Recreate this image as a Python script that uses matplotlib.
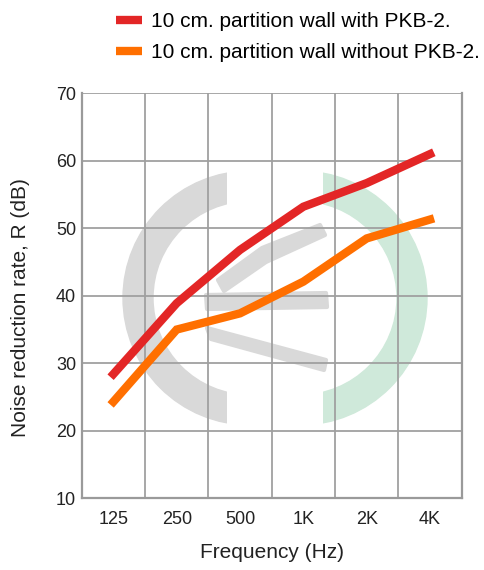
import matplotlib.pyplot as plt
from matplotlib.lines import Line2D
from matplotlib.patches import Wedge, Rectangle, Polygon
from matplotlib.transforms import Affine2D

plt.rcParams['font.family'] = ['Liberation Sans', 'DejaVu Sans']

# data
freqs = ['125', '250', '500', '1K', '2K', '4K']
with_pkb = [28.4, 38.9, 46.8, 53.2, 56.7, 61.0]
without_pkb = [24.3, 35.0, 37.4, 42.1, 48.5, 51.3]
labels = ['10 cm. partition wall with PKB-2.', '10 cm. partition wall without PKB-2.']
colors = ['#e32626', '#ff6f00']

fig = plt.figure(figsize=(4.85, 5.7), dpi=100)
ax = fig.add_axes([81.7 / 485, 1 - 498.3 / 570, 380 / 485, 405 / 570])

# background logo (decoration), drawn in pixel space with y going down
px = Affine2D().scale(0.01, -0.01).translate(0, 5.7) + fig.dpi_scale_trans
gray = '#d9d9d9'
green = '#cfe9da'
w1 = Wedge((250, 298), 127, 90, 270, width=30, color=gray, transform=px, zorder=0.5)
w2 = Wedge((300, 298), 127, -90, 90, width=30, color=green, transform=px, zorder=0.5)
ax.add_patch(w1)
ax.add_patch(w2)
w1.set_clip_path(Rectangle((0, 0), 226.7, 570, transform=px))
w2.set_clip_path(Rectangle((323.3, 0), 200, 570, transform=px))
for xs, ys in [([218, 262, 320, 325, 266, 224], [280, 248, 225, 235, 262, 291]),
               ([206, 326, 327, 207], [295, 293, 307, 309]),
               ([207, 326, 324, 211], [328, 360, 370, 339])]:
    ax.add_patch(Polygon(list(zip(xs, ys)), closed=True, color=gray,
                         transform=px, zorder=0.5, joinstyle='round', lw=3))

x = range(len(freqs))
ax.plot(x, with_pkb, color=colors[0], lw=6, solid_joinstyle='miter', zorder=3)
ax.plot(x, without_pkb, color=colors[1], lw=6, solid_joinstyle='miter', zorder=3)

ax.set_xlim(-0.5, 5.5)
ax.set_ylim(10, 70)
ax.set_yticks(range(10, 71, 10))
ax.set_xticks(list(x))
ax.set_xticklabels(freqs)
ax.grid(False)
for i in range(7):
    ax.axvline(i - 0.5, color='#a0a0a0', lw=1.3, zorder=1)
for v in range(10, 71, 10):
    ax.axhline(v, color='#a0a0a0', lw=1.3, zorder=1)
for s in ax.spines.values():
    s.set_color('#9a9a9a')
    s.set_linewidth(1.6)
ax.spines['top'].set_visible(False)
ax.tick_params(which='both', length=0, labelsize=13, colors='#222222')
ax.tick_params(axis='x', pad=9)
ax.tick_params(axis='y', pad=4)

ax.set_xlabel('Frequency (Hz)', fontsize=15, labelpad=11, color='#222222')
ax.set_ylabel('Noise reduction rate, R (dB)', fontsize=15, labelpad=12, color='#222222')
ax.yaxis.set_label_coords(-0.135, 0.47)

handles = [Line2D([0], [0], color=c, lw=6, solid_capstyle='butt') for c in colors]
fig.legend(handles, labels, loc='upper left', bbox_to_anchor=(116 / 485, 1 - 12 / 570),
           frameon=False, fontsize=15, handlelength=1.25, handletextpad=0.45,
           labelspacing=0.6, borderpad=0, borderaxespad=0)

fig.savefig('out.png', dpi=100)
